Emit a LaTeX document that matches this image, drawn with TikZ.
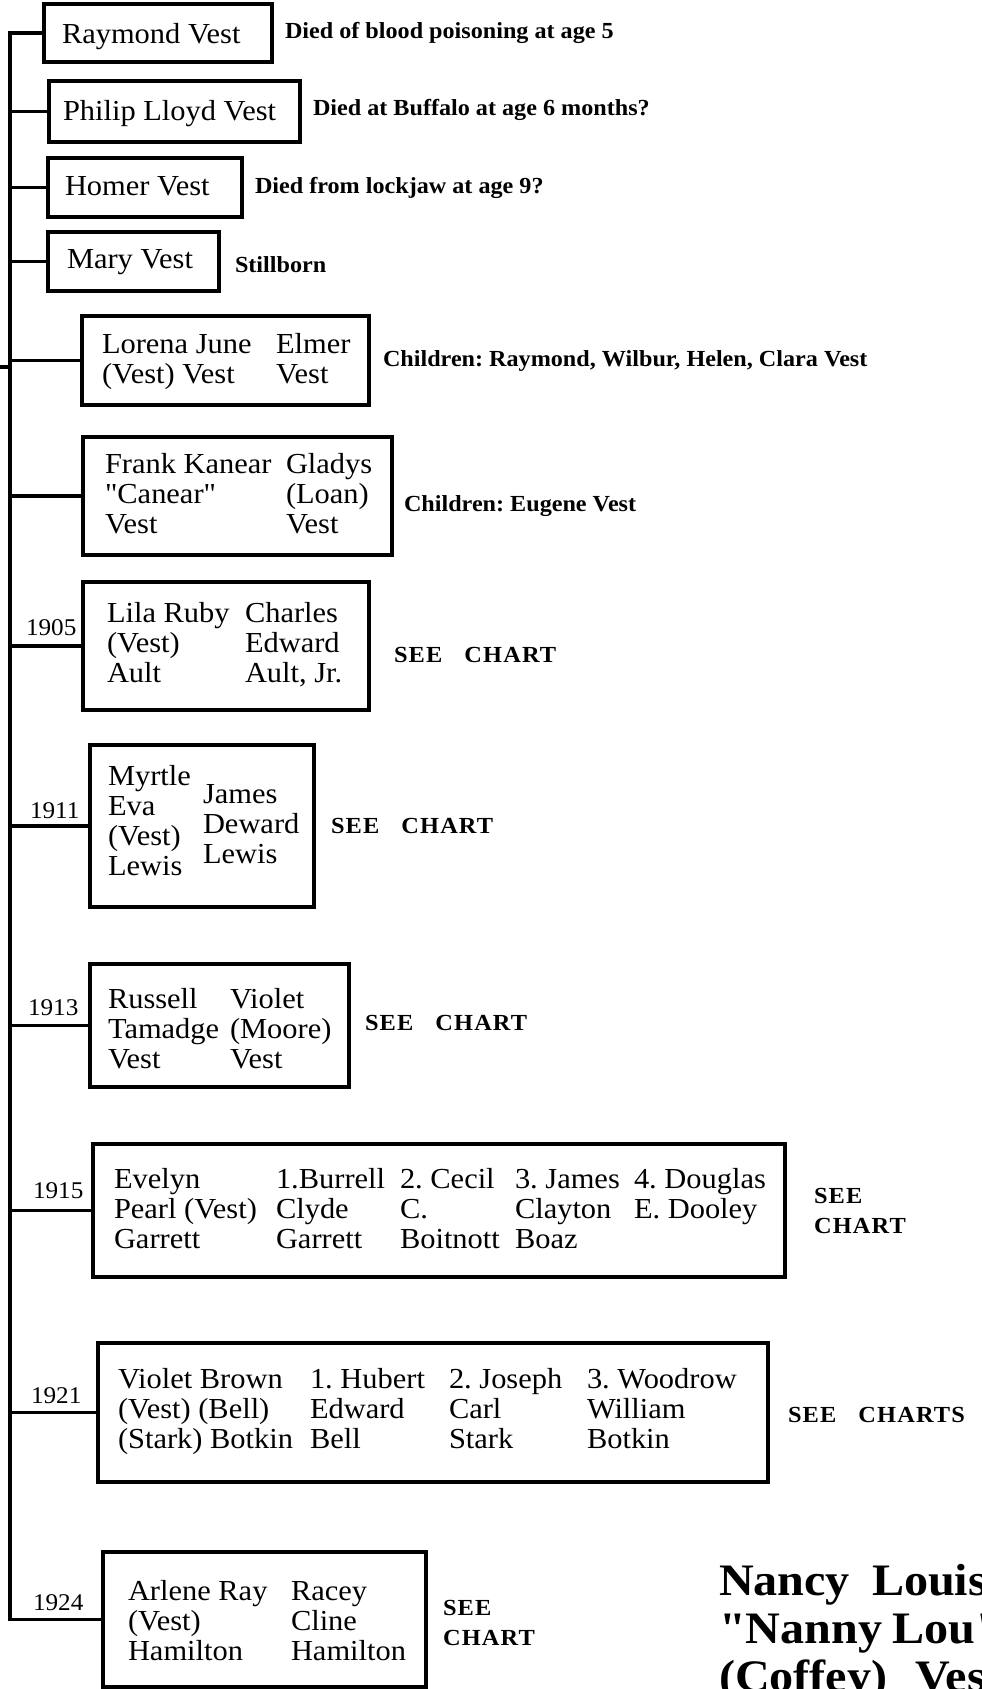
\documentclass[tikz,border=0pt]{standalone}
\usepackage{fontspec}
\setmainfont{Liberation Serif}
\newfontfamily\rmfam{Liberation Serif}[FakeStretch=1.05]
\newfontfamily\notefam{Liberation Serif Bold}[FakeStretch=1.05]
\newfontfamily\seefam{Liberation Serif Bold}[LetterSpace=5,FakeStretch=1.06]
\newfontfamily\ttlfam{Liberation Serif Bold}[FakeStretch=1.07]
\newcommand\fntbox{\rmfam\fontsize{29}{30}\selectfont}
\newcommand\fntnote{\notefam\fontsize{23}{25}\selectfont}
\newcommand\fntsee{\seefam\fontsize{23}{30}\selectfont}
\newcommand\fntyear{\rmfam\fontsize{24}{26}\selectfont}
\newcommand\fntttl{\ttlfam\fontsize{45}{48}\selectfont}
\newcommand\stackcol[1]{\begin{tabular}[t]{@{}l@{}}#1\end{tabular}}
\frenchspacing
\tikzset{
  pbox/.style={draw, line width=3.6pt, inner sep=0pt, outer sep=0pt},
  conn/.style={line width=3.6pt},
  txt/.style={anchor=base west, inner sep=0pt, outer sep=0pt, font=\fntbox},
  note/.style={anchor=base west, inner sep=0pt, outer sep=0pt, font=\fntnote},
  see/.style={anchor=base west, inner sep=0pt, outer sep=0pt, font=\fntsee},
  year/.style={anchor=base west, inner sep=0pt, outer sep=0pt, font=\fntyear},
  ttl/.style={anchor=base west, inner sep=0pt, outer sep=0pt, font=\fntttl},
}
\begin{document}
\begin{tikzpicture}[x=1pt,y=-1pt]
\useasboundingbox (0,0) rectangle (982,1689);
\clip (0,0) rectangle (982,1689);
\fill[white] (0,0) rectangle (982,1689);

% boxes
\node[pbox, minimum width=228pt, minimum height=58pt]  (raymond) at (158,33) {};
\node[pbox, minimum width=251pt, minimum height=61pt]  (philip)  at (174.5,111.5) {};
\node[pbox, minimum width=194pt, minimum height=59pt]  (homer)   at (145,187.5) {};
\node[pbox, minimum width=171pt, minimum height=59pt]  (mary)    at (133.5,261.5) {};
\node[pbox, minimum width=287pt, minimum height=89pt]  (lorena)  at (225.5,360.5) {};
\node[pbox, minimum width=309pt, minimum height=118pt] (frank)   at (237.5,496) {};
\node[pbox, minimum width=286pt, minimum height=128pt] (lila)    at (226,646) {};
\node[pbox, minimum width=224pt, minimum height=162pt] (myrtle)  at (202,826) {};
\node[pbox, minimum width=259pt, minimum height=123pt] (russell) at (219.5,1025.5) {};
\node[pbox, minimum width=692pt, minimum height=133pt] (evelyn)  at (439,1210.5) {};
\node[pbox, minimum width=670pt, minimum height=139pt] (violet)  at (433,1412.5) {};
\node[pbox, minimum width=323pt, minimum height=135pt] (arlene)  at (264.5,1619.5) {};

% spine and connectors
\coordinate (spine) at (10,0);
\coordinate (parent) at (0,367);
\draw[conn] (raymond.west) -- (raymond.west -| spine) |- (arlene.west);
\foreach \b in {philip,homer,mary,lorena,frank,lila,myrtle,russell,evelyn,violet}
  \draw[conn] (\b.west) -- (\b.west -| spine);
\draw[conn] (parent) -- (parent -| spine);

% box texts
\node[txt] (raymond-t) at (62,43)  {Raymond Vest};
\node[txt] (philip-t)  at (63,120) {Philip Lloyd Vest};
\node[txt] (homer-t)   at (65,195) {Homer Vest};
\node[txt] (mary-t)    at (67,268) {Mary Vest};
\node[txt] (lorena-a)  at (102,353) {\stackcol{Lorena June\\(Vest) Vest}};
\node[txt] (lorena-b)  at (276,353) {\stackcol{Elmer\\Vest}};
\node[txt] (frank-a)   at (105,473) {\stackcol{Frank Kanear\\"Canear"\\Vest}};
\node[txt] (frank-b)   at (286,473) {\stackcol{Gladys\\(Loan)\\Vest}};
\node[txt] (lila-a)    at (107,622) {\stackcol{Lila Ruby\\(Vest)\\Ault}};
\node[txt] (lila-b)    at (245,622) {\stackcol{Charles\\Edward\\Ault, Jr.}};
\node[txt] (myrtle-a)  at (108,785) {\stackcol{Myrtle\\Eva\\(Vest)\\Lewis}};
\node[txt] (myrtle-b)  at (203,803) {\stackcol{James\\Deward\\Lewis}};
\node[txt] (russell-a) at (108,1008) {\stackcol{Russell\\Tamadge\\Vest}};
\node[txt] (russell-b) at (230,1008) {\stackcol{Violet\\(Moore)\\Vest}};
\node[txt] (evelyn-a)  at (114,1188) {\stackcol{Evelyn\\Pearl (Vest)\\Garrett}};
\node[txt] (evelyn-b)  at (276,1188) {\stackcol{1.Burrell\\Clyde\\Garrett}};
\node[txt] (evelyn-c)  at (400,1188) {\stackcol{2. Cecil\\C.\\Boitnott}};
\node[txt] (evelyn-d)  at (515,1188) {\stackcol{3. James\\Clayton\\Boaz}};
\node[txt] (evelyn-e)  at (634,1188) {\stackcol{4. Douglas\\E. Dooley}};
\node[txt] (violet-a)  at (118,1388) {\stackcol{Violet Brown\\(Vest) (Bell)\\(Stark) Botkin}};
\node[txt] (violet-b)  at (310,1388) {\stackcol{1. Hubert\\Edward\\Bell}};
\node[txt] (violet-c)  at (449,1388) {\stackcol{2. Joseph\\Carl\\Stark}};
\node[txt] (violet-d)  at (587,1388) {\stackcol{3. Woodrow\\William\\Botkin}};
\node[txt] (arlene-a)  at (128,1600) {\stackcol{Arlene Ray\\(Vest)\\Hamilton}};
\node[txt] (arlene-b)  at (291,1600) {\stackcol{Racey\\Cline\\Hamilton}};

% notes
\node[note] (raymond-n) at (285,38)  {Died of blood poisoning at age 5};
\node[note] (philip-n)  at (313,115) {Died at Buffalo at age 6 months?};
\node[note] (homer-n)   at (255,193) {Died from lockjaw at age 9?};
\node[note] (mary-n)    at (235,272) {Stillborn};
\node[note] (lorena-n)  at (383,366) {Children: Raymond, Wilbur, Helen, Clara Vest};
\node[note] (frank-n)   at (404,511) {Children: Eugene Vest};

% see chart labels
\node[see] (lila-s)    at (394,662)  {SEE\hspace{22pt}CHART};
\node[see] (myrtle-s)  at (331,833)  {SEE\hspace{22pt}CHART};
\node[see] (russell-s) at (365,1030) {SEE\hspace{22pt}CHART};
\node[see] (evelyn-s)  at (814,1203) {\stackcol{SEE\\CHART}};
\node[see] (violet-s)  at (788,1422) {SEE\hspace{22pt}CHARTS};
\node[see] (arlene-s)  at (443,1615) {\stackcol{SEE\\CHART}};

% years
\node[year] (y1905) at (26,635)  {1905};
\node[year] (y1911) at (30,818)  {1911};
\node[year] (y1913) at (28,1015) {1913};
\node[year] (y1915) at (33,1198) {1915};
\node[year] (y1921) at (31,1403) {1921};
\node[year] (y1924) at (33,1610) {1924};

% title (cut off by the page edge, as in the reference)
\node[ttl] (title) at (719,1595) {\stackcol{Nancy\hspace{22pt}Louisa\\"Nanny\hspace{10pt}Lou"\\(Coffey)\hspace{28pt}Vest}};
\end{tikzpicture}
\end{document}
